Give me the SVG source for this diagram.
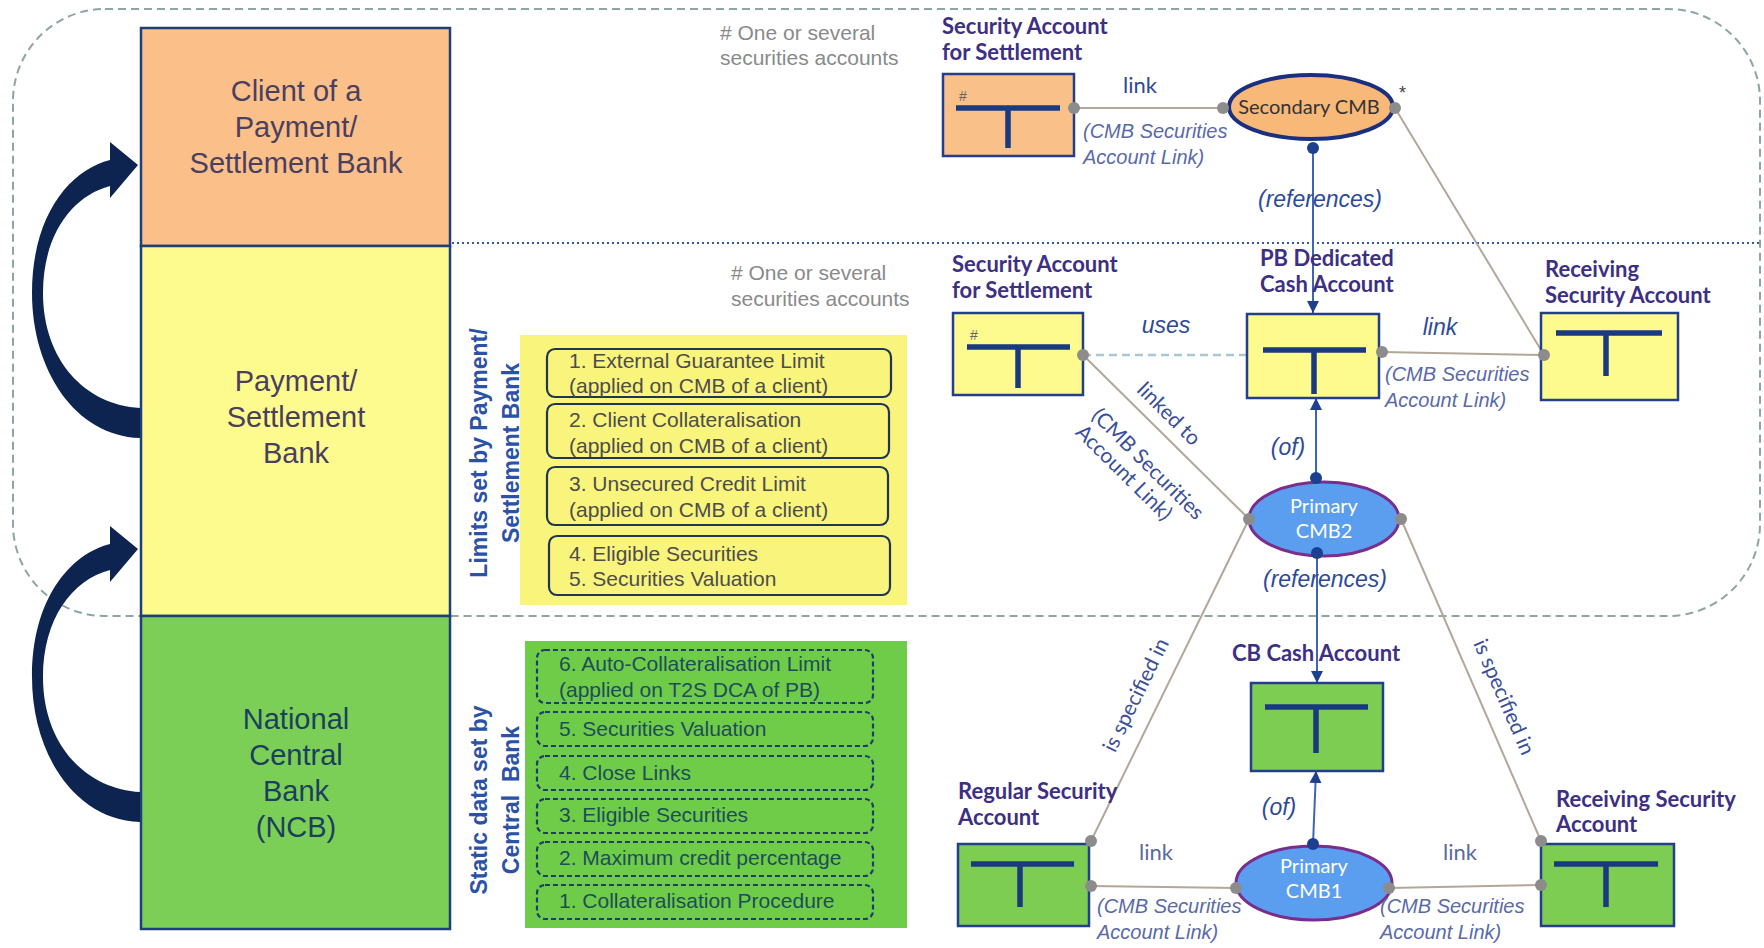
<svg xmlns="http://www.w3.org/2000/svg" width="1764" height="948" viewBox="0 0 1764 948">
<defs>
<style>
.col{font-family:"Liberation Sans",Arial,sans-serif;font-size:29px;text-anchor:middle}
.vert{font-family:"Liberation Sans",Arial,sans-serif;font-size:23px;font-weight:bold;fill:#2b52a8;text-anchor:middle}
.item{font-family:"Liberation Sans",Arial,sans-serif;font-size:21px;fill:#4d4d4d}
.gitem{font-family:"Liberation Sans",Arial,sans-serif;font-size:21px;fill:#1d4d5a}
.note{font-family:"Liberation Sans",Arial,sans-serif;font-size:21px;fill:#8a8a8a}
.title{font-family:Lato,"Open Sans",sans-serif;font-size:22px;font-weight:bold;fill:#3c2f84}
.lab{font-family:"Liberation Sans",Arial,sans-serif;font-size:20px;font-style:italic;fill:#5a6aa8}
.rel{font-family:"Liberation Sans",Arial,sans-serif;font-size:23px;font-style:italic;fill:#2d4a9a;text-anchor:middle}
.lnk{font-family:Lato,"Open Sans",sans-serif;font-size:22px;fill:#2d4a9a;text-anchor:middle}
.rot{font-family:Lato,"Open Sans",sans-serif;font-size:21px;fill:#3a4f9a;text-anchor:middle}
.cmb{font-family:Lato,"Open Sans",sans-serif;font-size:20px;text-anchor:middle}
.acct{stroke:#233e8c;stroke-width:2.5}
.tee{stroke:#1a3a80;stroke-width:5.5;fill:none}
.hash{font-family:"Liberation Sans",Arial,sans-serif;font-size:14px;fill:#666}
.ln{stroke:#b3a797;stroke-width:2;fill:none}
.ref{stroke:#3e64b8;stroke-width:2;fill:none}
.gdot{fill:#8c8c8c}
.ndot{fill:#1c3f8f}
.limit{fill:none;stroke:#1f3554;stroke-width:2.2}
.static{fill:none;stroke:#1f3e66;stroke-width:2.2;stroke-dasharray:5 3}
.band{stroke:#1f3f7a;stroke-width:2.5}
</style>
<marker id="ah" viewBox="0 0 12 12" refX="12" refY="6" markerWidth="12" markerHeight="12" markerUnits="userSpaceOnUse" orient="auto">
<path d="M0,0 L12,6 L0,12 z" fill="#1c3f8f"/>
</marker>
<!-- curved block arrow, thick at its base, pointing right at the band above -->
<path id="curl" d="M140,438 C75,436 32,370 32,293 C32,215 70,170 110,160 L110,142 L138,165 L110,198 L110,186 C72,196 43,235 43,293 C43,360 85,405 140,408 Z"/>
</defs>
<rect width="1764" height="948" fill="#ffffff"/>

<!-- scope outline and layer separator -->
<rect x="13" y="9" width="1747" height="607" rx="92" fill="none" stroke="#8fa5a5" stroke-width="2" stroke-dasharray="8 5"/>
<line x1="452" y1="243" x2="1762" y2="243" stroke="#2a5aa8" stroke-width="2" stroke-dasharray="2 3"/>

<!-- left column: roles -->
<g id="client-band">
<rect class="band" x="141" y="28" width="309" height="218" fill="#fbc08a"/>
<text class="col" fill="#4a3f5e"><tspan x="296" y="101">Client of a</tspan><tspan x="296" y="137">Payment/</tspan><tspan x="296" y="173">Settlement Bank</tspan></text>
</g>
<g id="payment-bank-band">
<rect class="band" x="141" y="246" width="309" height="370" fill="#fdfb8e"/>
<text class="col" fill="#4a3f5e"><tspan x="296" y="391">Payment/</tspan><tspan x="296" y="427">Settlement</tspan><tspan x="296" y="463">Bank</tspan></text>
</g>
<g id="ncb-band">
<rect class="band" x="141" y="616" width="309" height="313" fill="#7ccf56"/>
<text class="col" fill="#1b3f5e"><tspan x="296" y="729">National</tspan><tspan x="296" y="765">Central</tspan><tspan x="296" y="801">Bank</tspan><tspan x="296" y="837">(NCB)</tspan></text>
</g>
<g id="delegation-arrows" fill="#0d2350">
<use href="#curl"/>
<use href="#curl" transform="translate(0,384)"/>
</g>

<!-- limits set by the payment bank -->
<g id="limits-panel">
<text class="vert" transform="translate(487,453) rotate(-90)">Limits set by Payment/</text>
<text class="vert" transform="translate(519,453) rotate(-90)">Settlement Bank</text>
<rect x="520" y="335" width="387" height="270" fill="#f9f47c"/>
<rect class="limit" x="547" y="349" width="344" height="48" rx="8"/>
<text class="item"><tspan x="569" y="368">1. External Guarantee Limit</tspan><tspan x="569" y="393">(applied on CMB of a client)</tspan></text>
<rect class="limit" x="547" y="404" width="342" height="54" rx="8"/>
<text class="item"><tspan x="569" y="427">2. Client Collateralisation</tspan><tspan x="569" y="453">(applied on CMB of a client)</tspan></text>
<rect class="limit" x="547" y="467" width="341" height="58" rx="8"/>
<text class="item"><tspan x="569" y="491">3. Unsecured Credit Limit</tspan><tspan x="569" y="517">(applied on CMB of a client)</tspan></text>
<rect class="limit" x="549" y="536" width="341" height="59" rx="8"/>
<text class="item"><tspan x="569" y="561">4. Eligible Securities</tspan><tspan x="569" y="586">5. Securities Valuation</tspan></text>
</g>

<!-- static data set by the central bank -->
<g id="static-panel">
<text class="vert" transform="translate(487,800) rotate(-90)">Static data set by</text>
<text class="vert" transform="translate(519,800) rotate(-90)" xml:space="preserve">Central  Bank</text>
<rect x="525" y="641" width="382" height="287" fill="#6fcc48"/>
<rect class="static" x="537" y="650" width="336" height="53" rx="8"/>
<text class="gitem"><tspan x="559" y="671">6. Auto-Collateralisation Limit</tspan><tspan x="559" y="697">(applied on T2S DCA of PB)</tspan></text>
<rect class="static" x="537" y="712" width="336" height="34" rx="8"/>
<text class="gitem" x="559" y="736">5. Securities Valuation</text>
<rect class="static" x="537" y="756" width="336" height="34" rx="8"/>
<text class="gitem" x="559" y="780">4. Close Links</text>
<rect class="static" x="537" y="799" width="336" height="34" rx="8"/>
<text class="gitem" x="559" y="822">3. Eligible Securities</text>
<rect class="static" x="537" y="842" width="336" height="34" rx="8"/>
<text class="gitem" x="559" y="865">2. Maximum credit percentage</text>
<rect class="static" x="537" y="885" width="336" height="34" rx="8"/>
<text class="gitem" x="559" y="908">1. Collateralisation Procedure</text>
</g>

<!-- notes -->
<g id="notes">
<text class="note"><tspan x="720" y="40"># One or several</tspan><tspan x="720" y="65">securities accounts</tspan></text>
<text class="note"><tspan x="731" y="280"># One or several</tspan><tspan x="731" y="306">securities accounts</tspan></text>
</g>

<!-- connectors -->
<g id="connectors">
<line class="ln" x1="1074" y1="108" x2="1223" y2="108"/>
<line class="ln" x1="1395" y1="108" x2="1544" y2="355"/>
<line x1="1083" y1="355" x2="1247" y2="355" stroke="#a8c8d8" stroke-width="2.5" stroke-dasharray="8 5"/>
<line class="ln" x1="1083" y1="355" x2="1249" y2="519"/>
<line class="ln" x1="1382" y1="352" x2="1544" y2="355"/>
<line class="ln" x1="1249" y1="519" x2="1091" y2="841"/>
<line class="ln" x1="1401" y1="519" x2="1541" y2="841"/>
<line class="ln" x1="1091" y1="886" x2="1236" y2="888"/>
<line class="ln" x1="1389" y1="888" x2="1541" y2="885"/>
<line class="ref" x1="1313" y1="148" x2="1313" y2="313" marker-end="url(#ah)"/>
<line class="ref" x1="1316" y1="478" x2="1316" y2="398" marker-end="url(#ah)"/>
<line class="ref" x1="1317" y1="553" x2="1317" y2="683" marker-end="url(#ah)"/>
<line class="ref" x1="1313" y1="844" x2="1316" y2="771" marker-end="url(#ah)"/>
</g>

<!-- accounts and cash memorandum balances -->
<g id="sec-acct-client">
<text class="title"><tspan x="942" y="34">Security Account</tspan><tspan x="942" y="60">for Settlement</tspan></text>
<rect class="acct" x="943" y="74" width="131" height="82" fill="#f9c08a"/>
<text class="hash" x="959" y="101">#</text>
<path class="tee" d="M956,108 H1060 M1008,108 V148"/>
</g>
<g id="secondary-cmb">
<ellipse cx="1311" cy="107" rx="82" ry="32" fill="#f8b878" stroke="#1a2f80" stroke-width="4"/>
<text class="cmb" x="1309" y="114" fill="#333">Secondary CMB</text>
<text x="1399" y="99" font-family="Liberation Sans, Arial, sans-serif" font-size="18" fill="#444">*</text>
</g>
<g id="sec-acct-pb">
<text class="title"><tspan x="952" y="272">Security Account</tspan><tspan x="952" y="298">for Settlement</tspan></text>
<rect class="acct" x="953" y="313" width="130" height="82" fill="#fdfb8e"/>
<text class="hash" x="970" y="340">#</text>
<path class="tee" d="M967,347 H1070 M1018,347 V388"/>
</g>
<g id="pb-dedicated-cash">
<text class="title"><tspan x="1260" y="266">PB Dedicated</tspan><tspan x="1260" y="292">Cash Account</tspan></text>
<rect class="acct" x="1247" y="314" width="132" height="84" fill="#fdfb8e"/>
<path class="tee" d="M1263,350 H1366 M1314,350 V394"/>
</g>
<g id="receiving-acct-pb">
<text class="title"><tspan x="1545" y="277">Receiving</tspan><tspan x="1545" y="303">Security Account</tspan></text>
<rect class="acct" x="1541" y="313" width="137" height="87" fill="#fdfb8e"/>
<path class="tee" d="M1556,333 H1662 M1606,333 V376"/>
</g>
<g id="primary-cmb2">
<ellipse cx="1324" cy="519" rx="75" ry="37" fill="#5b9ef0" stroke="#7b2d8e" stroke-width="3"/>
<text class="cmb" fill="#ffffff"><tspan x="1324" y="513">Primary</tspan><tspan x="1324" y="538">CMB2</tspan></text>
</g>
<g id="cb-cash">
<text class="title" x="1232" y="661">CB Cash Account</text>
<rect class="acct" x="1251" y="683" width="132" height="88" fill="#7ccd52"/>
<path class="tee" d="M1265,707 H1368 M1316,707 V753"/>
</g>
<g id="primary-cmb1">
<ellipse cx="1314" cy="883" rx="78" ry="37" fill="#5b9ef0" stroke="#7b2d8e" stroke-width="3"/>
<text class="cmb" fill="#ffffff"><tspan x="1314" y="873">Primary</tspan><tspan x="1314" y="898">CMB1</tspan></text>
</g>
<g id="regular-acct">
<text class="title"><tspan x="958" y="799">Regular Security</tspan><tspan x="958" y="825">Account</tspan></text>
<rect class="acct" x="958" y="844" width="131" height="82" fill="#7ccd52"/>
<path class="tee" d="M971,864 H1074 M1020,864 V907"/>
</g>
<g id="receiving-acct-ncb">
<text class="title"><tspan x="1556" y="807">Receiving Security</tspan><tspan x="1556" y="832">Account</tspan></text>
<rect class="acct" x="1541" y="844" width="133" height="82" fill="#7ccd52"/>
<path class="tee" d="M1554,864 H1658 M1606,864 V907"/>
</g>

<!-- connector end points -->
<g id="endpoints">
<circle class="gdot" cx="1074" cy="108" r="6"/>
<circle class="gdot" cx="1223" cy="108" r="6"/>
<circle class="gdot" cx="1395" cy="108" r="6"/>
<circle class="gdot" cx="1083" cy="355" r="6"/>
<circle class="gdot" cx="1382" cy="352" r="6"/>
<circle class="gdot" cx="1544" cy="355" r="6"/>
<circle class="gdot" cx="1249" cy="519" r="6"/>
<circle class="gdot" cx="1401" cy="519" r="6"/>
<circle class="gdot" cx="1091" cy="841" r="6"/>
<circle class="gdot" cx="1091" cy="886" r="6"/>
<circle class="gdot" cx="1236" cy="888" r="6"/>
<circle class="gdot" cx="1389" cy="888" r="6"/>
<circle class="gdot" cx="1541" cy="841" r="6"/>
<circle class="gdot" cx="1541" cy="885" r="6"/>
<circle class="ndot" cx="1313" cy="148" r="6"/>
<circle class="ndot" cx="1316" cy="478" r="6"/>
<circle class="ndot" cx="1317" cy="553" r="6"/>
<circle class="ndot" cx="1313" cy="844" r="6"/>
</g>

<!-- connector labels -->
<g id="connector-labels">
<text class="lnk" x="1140" y="93">link</text>
<text class="lab"><tspan x="1083" y="138">(CMB Securities</tspan><tspan x="1083" y="164">Account Link)</tspan></text>
<text class="rel" x="1320" y="207">(references)</text>
<text class="rel" x="1166" y="333">uses</text>
<text class="rel" x="1440" y="335">link</text>
<text class="lab"><tspan x="1385" y="381">(CMB Securities</tspan><tspan x="1385" y="407">Account Link)</tspan></text>
<text class="rot" transform="translate(1169,414) rotate(44.7)" y="7">linked to</text>
<text class="rot" transform="translate(1148,464) rotate(44.7)"><tspan x="0" y="7">(CMB Securities</tspan><tspan x="-11" y="30">Account Link)</tspan></text>
<text class="rel" x="1288" y="455">(of)</text>
<text class="rel" x="1325" y="587">(references)</text>
<text class="rot" transform="translate(1136,695) rotate(-63.9)" y="7">is specified in</text>
<text class="rot" transform="translate(1504,697) rotate(66.5)" y="7">is specified in</text>
<text class="rel" x="1279" y="815">(of)</text>
<text class="lnk" x="1156" y="860" style="fill:#5a6aa0">link</text>
<text class="lnk" x="1460" y="860" style="fill:#5a6aa0">link</text>
<text class="lab"><tspan x="1097" y="913">(CMB Securities</tspan><tspan x="1097" y="939">Account Link)</tspan></text>
<text class="lab"><tspan x="1380" y="913">(CMB Securities</tspan><tspan x="1380" y="939">Account Link)</tspan></text>
</g>
</svg>
